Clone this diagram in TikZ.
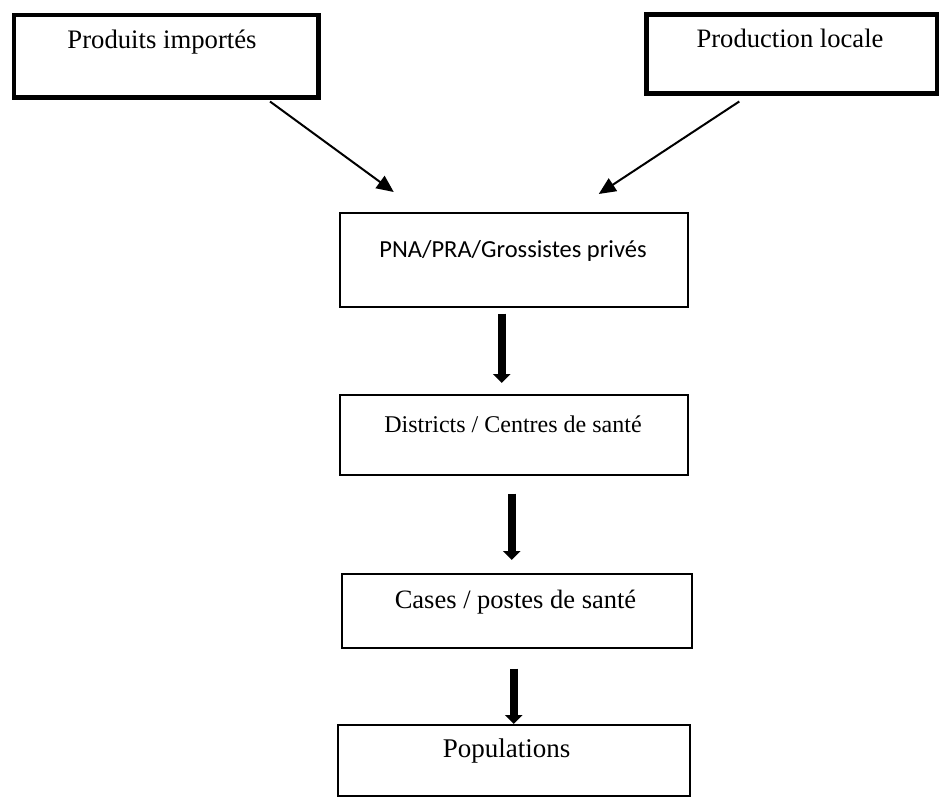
\documentclass[tikz,border=0pt]{standalone}
\usepackage{fontspec}
\setmainfont{Liberation Serif}
\newfontfamily\calib{Carlito}
\usetikzlibrary{arrows.meta}
\tikzset{
  thickbox/.style={draw, line width=4.5pt, inner sep=0pt},
  thinbox/.style={draw, line width=1.5pt, inner sep=0pt},
  lbl/.style={anchor=base, inner sep=0pt},
  diag/.style={line width=2pt, -{Triangle[length=17pt,width=15pt]}},
  blockarrow/.style={line width=8pt, -{Triangle[length=9pt,width=17pt]}},
}
\newcommand{\boxat}[6]{\node[#1, minimum width=#4pt-#2pt, minimum height=#5pt-#3pt, anchor=north west] (#6) at (#2,#3) {};}
\begin{document}
\begin{tikzpicture}[x=1pt,y=-1pt]
\useasboundingbox (0,0) rectangle (939,803);
% boxes
\boxat{thickbox}{11.5}{12.5}{316}{95}{b1}
\boxat{thickbox}{644}{12}{935}{91}{b2}
\boxat{thinbox}{339}{212}{687}{306}{b3}
\boxat{thinbox}{339}{394}{687}{474}{b4}
\boxat{thinbox}{341}{573}{691}{647}{b5}
\boxat{thinbox}{337}{724}{689}{795}{b6}
% labels
\node[lbl, font=\fontsize{26.7}{30}\selectfont] (t1) at (162,48) {Produits importés};
\node[lbl, font=\fontsize{26.6}{30}\selectfont] (t2) at (790,47) {Production locale};
\node[lbl, font=\calib\fontsize{24.5}{28}\selectfont] (t3) at (513,257) {PNA/PRA/Grossistes privés};
\node[lbl, font=\fontsize{24}{28}\selectfont] (t4) at (513,432) {Districts / Centres de santé};
\node[lbl, font=\fontsize{26.5}{30}\selectfont] (t5) at (515.5,608) {Cases / postes de santé};
\node[lbl, font=\fontsize{27}{30}\selectfont] (t6) at (506.5,757) {Populations};
% connectors
\draw[diag] ([xshift=104pt,yshift=-2pt]b1.south) -- ([xshift=-120pt,yshift=20pt]b3.north);
\draw[diag] ([xshift=-52.5pt,yshift=-6pt]b2.south) -- ([xshift=85pt,yshift=18pt]b3.north);
\draw[blockarrow] ([xshift=-12pt,yshift=-6pt]b3.south) -- ([xshift=-12pt,yshift=11pt]b4.north);
\draw[blockarrow] ([xshift=-2pt,yshift=-18pt]b4.south) -- ([xshift=-5pt,yshift=13pt]b5.north);
\draw[blockarrow] ([xshift=-3pt,yshift=-20pt]b5.south) -- ([xshift=0pt,yshift=0pt]b6.north);
\end{tikzpicture}
\end{document}
